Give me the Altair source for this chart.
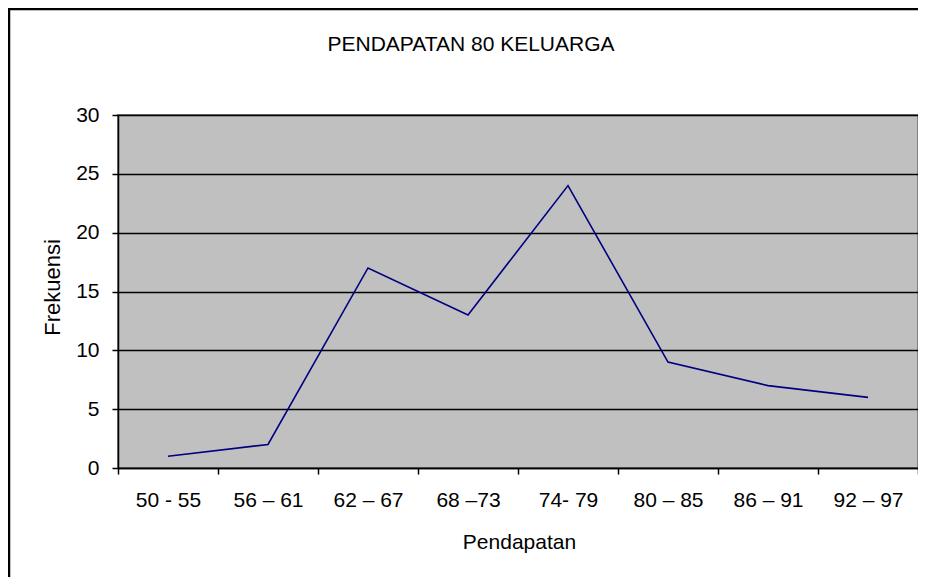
import altair as alt
import pandas as pd

categories = ["50 - 55", "56 – 61", "62 – 67", "68 –73", "74- 79", "80 – 85", "86 – 91", "92 – 97"]
frekuensi = [1, 2, 17, 13, 24, 9, 7, 6]
y_ticks = [0, 5, 10, 15, 20, 25, 30]
title_text = "PENDAPATAN 80 KELUARGA"

df = pd.DataFrame({"Pendapatan": categories, "Frekuensi": frekuensi})

W, H = 800, 353
FONT = "Liberation Sans"

line = alt.Chart(df).mark_line(color="#000080", strokeWidth=1.6).encode(
    x=alt.X(
        "Pendapatan:N",
        sort=categories,
        bandPosition=0.5,
        scale=alt.Scale(type="band", paddingInner=0, paddingOuter=0),
        axis=alt.Axis(
            title="Pendapatan",
            labelAngle=0,
            tickBand="extent",
            tickSize=6,
            tickColor="black",
            domainColor="black",
            domainWidth=1.5,
            tickWidth=1.5,
            labelPadding=15,
            labelFontSize=21,
            labelColor="black",
            labelFont=FONT,
            grid=False,
            titleFontSize=21,
            titleFont=FONT,
            titleFontWeight="normal",
            titleColor="black",
            titleX=401,
            titleY=80,
            titleBaseline="alphabetic",
        ),
    ),
    y=alt.Y(
        "Frekuensi:Q",
        scale=alt.Scale(domain=[0, 30], nice=False),
        axis=alt.Axis(
            title="Frekuensi",
            values=y_ticks,
            tickSize=6,
            tickColor="black",
            domainColor="black",
            domainWidth=1.5,
            tickWidth=1.5,
            grid=True,
            gridColor="black",
            gridWidth=1.6,
            labelPadding=13,
            labelFontSize=21,
            labelColor="black",
            labelFont=FONT,
            titleFontSize=22,
            titleFont=FONT,
            titleFontWeight="normal",
            titleColor="black",
            titleX=-59,
            titleY=172,
            titleBaseline="alphabetic",
            titleAngle=-90,
        ),
    ),
)

border = alt.Chart(pd.DataFrame({"a": [0]})).mark_rect(
    fill=None, stroke="black", strokeWidth=2.5
).encode(
    x=alt.value(-109), x2=alt.value(840), y=alt.value(-106), y2=alt.value(520)
)

title = alt.Chart(pd.DataFrame({"t": [title_text]})).mark_text(
    fontSize=21, font=FONT, color="black", align="center", baseline="alphabetic"
).encode(
    text="t:N", x=alt.value(353), y=alt.value(-64)
)

chart = alt.layer(line, border, title).properties(
    width=W,
    height=H,
    autosize=alt.AutoSizeParams(type="none"),
    padding={"left": 110, "top": 107, "right": 0, "bottom": 109},
).configure(
    background="white",
    view=alt.ViewConfig(fill="#C0C0C0", stroke="#808080", strokeWidth=2),
)

chart.save("out.html", embed_options={"renderer": "svg", "actions": False})
